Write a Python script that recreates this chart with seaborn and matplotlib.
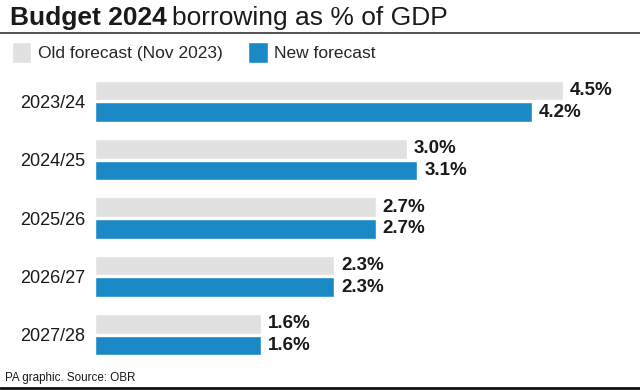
import matplotlib
matplotlib.use("Agg")
import matplotlib.pyplot as plt
import pandas as pd
import seaborn as sns
from matplotlib.lines import Line2D

years = ["2023/24", "2024/25", "2025/26", "2026/27", "2027/28"]
old_forecast = [4.5, 3.0, 2.7, 2.3, 1.6]
new_forecast = [4.2, 3.1, 2.7, 2.3, 1.6]
series_names = ["Old forecast (Nov 2023)", "New forecast"]
colors = ["#e1e1e1", "#1a89c6"]

df = pd.DataFrame({
    "year": years * 2,
    "value": old_forecast + new_forecast,
    "series": [series_names[0]] * len(years) + [series_names[1]] * len(years),
})

sns.set_theme(style="white")
plt.rcParams["font.family"] = ["Liberation Sans", "DejaVu Sans"]

fig = plt.figure(figsize=(6.4, 3.9), dpi=100)
ax = fig.add_axes([0.148, 0.067, 0.813, 0.748])

sns.barplot(data=df, x="value", y="year", hue="series", orient="h",
            palette=colors, width=0.75, gap=0.1, saturation=1, ax=ax)

for container in ax.containers:
    ax.bar_label(container, fmt="%.1f%%", padding=5, fontsize=13.5,
                 fontweight="bold", color="#1a1a1a")

ax.set_xlim(0, 5)
ax.set_xlabel("")
ax.set_ylabel("")
ax.set_xticks([])
ax.tick_params(axis="y", length=0, pad=7, labelsize=13, labelcolor="#1a1a1a")
sns.despine(ax=ax, left=True, bottom=True)

sns.move_legend(ax, "upper left", bbox_to_anchor=(0.018, 0.893),
                bbox_transform=fig.transFigure, ncol=2, frameon=False,
                title=None, fontsize=12.5, handlelength=1.15, handleheight=1.55,
                handletextpad=0.35, columnspacing=1.5, borderpad=0, borderaxespad=0)

title_y = 0.935
t = fig.text(0.015, title_y, "Budget 2024", fontsize=19, fontweight="bold",
             color="#1a1a1a", va="baseline")
fig.canvas.draw()
bb = t.get_window_extent(renderer=fig.canvas.get_renderer())
fig.text((bb.x1 + 6) / fig.bbox.width, title_y, "borrowing as % of GDP",
         fontsize=19, color="#1a1a1a", va="baseline")

fig.add_artist(Line2D([0, 1], [0.915, 0.915], transform=fig.transFigure,
                      color="#333333", linewidth=1.2))
fig.add_artist(Line2D([0, 1], [0.006, 0.006], transform=fig.transFigure,
                      color="#111111", linewidth=2))
fig.text(0.008, 0.022, "PA graphic. Source: OBR", fontsize=8.4, color="#1a1a1a",
         va="baseline")

fig.savefig("out.png", dpi=100)
